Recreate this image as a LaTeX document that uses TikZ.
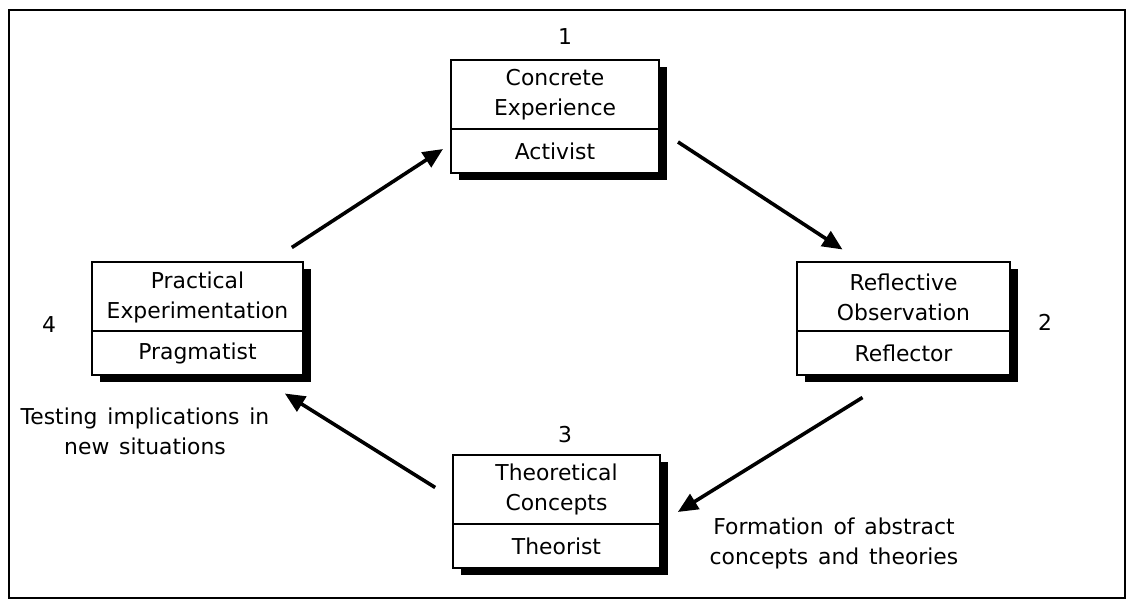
\documentclass[tikz,border=0pt]{standalone}
\usepackage{fontspec}
\setmainfont{DejaVu Sans}
\usetikzlibrary{positioning,arrows.meta,backgrounds}
\newcommand{\kolbfont}{\fontsize{16.4}{22.5}\selectfont}
\newcommand{\notefont}{\kolbfont\spaceskip=0.45em\relax}

\begin{document}
\begin{tikzpicture}[x=0.75pt,y=-0.75pt,font=\kolbfont,
  stage/.style={draw,line width=1.5pt,fill=white,inner sep=0pt,outer sep=0pt,align=center,minimum height=51.75pt},
  role/.style={stage,minimum height=33pt},
  flow/.style={line width=2.7pt,-{Triangle[length=15pt,width=13pt]}},
  shadowbox/.style={fill=black}]
\useasboundingbox (0,0) rectangle (1129,602);
%frame
\draw[line width=2.2pt] (9,10) rectangle (1125,598);

%Box 1
\node[stage,text width=156pt] (conc) at (555,94.5) {Concrete\\Experience};
\node[role,text width=156pt,below=0pt of conc] (activ) {Activist};
%Box 2
\node[stage,text width=160pt] (refl) at (903.5,297) {Reflective\\Observation};
\node[role,text width=160pt,below=0pt of refl] (reflc) {Reflector};
%Box 3
\node[stage,text width=155pt] (theo) at (556.5,489.5) {Theoretical\\Concepts};
\node[role,text width=155pt,below=0pt of theo] (theor) {Theorist};
%Box 4
\node[stage,text width=158pt] (prac) at (197.5,297) {Practical\\Experimentation};
\node[role,text width=158pt,below=0pt of prac] (pragm) {Pragmatist};

%shadows
\begin{scope}[on background layer]
\fill[shadowbox] ([shift={(8,7)}]conc.north west) rectangle ([shift={(8,7)}]activ.south east);
\fill[shadowbox] ([shift={(8,7)}]refl.north west) rectangle ([shift={(8,7)}]reflc.south east);
\fill[shadowbox] ([shift={(8,7)}]theo.north west) rectangle ([shift={(8,7)}]theor.south east);
\fill[shadowbox] ([shift={(8,7)}]prac.north west) rectangle ([shift={(8,7)}]pragm.south east);
\end{scope}

% Text Node
\node (n1) at (565,37) {1};
\node (n2) at (1045,322) {2};
\node (n3) at (565,435) {3};
\node (n4) at (49,325) {4};
\node[align=center,font=\notefont] (test) at (145,431) {Testing implications in\\new situations};
\node[align=center,font=\notefont] (form) at (834,543) {Formation of abstract\\concepts and theories};

%arrows
\draw[flow] ([shift={(-11,-15)}]prac.north east) -- ([shift={(-8,-2)}]activ.west);
\draw[flow] ([shift={(19,-9)}]activ.east) -- ([shift={(-61,-13)}]refl.north);
\draw[flow] ([shift={(-41,22)}]reflc.south) -- ([shift={(18,-12)}]theo.south east);
\draw[flow] ([shift={(-18,-2)}]theo.west) -- ([shift={(-18,18)}]pragm.south east);

\end{tikzpicture}
\end{document}
